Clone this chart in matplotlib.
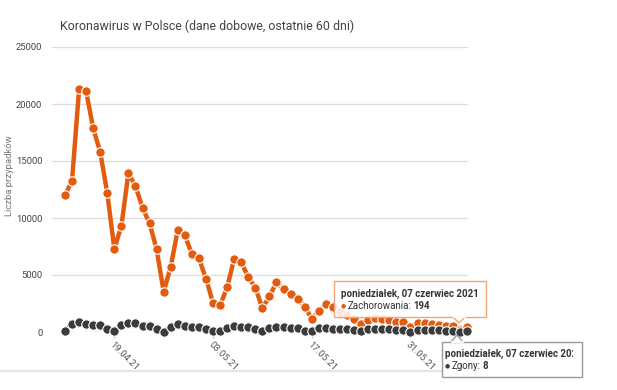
import numpy as np
import pandas as pd
import matplotlib
matplotlib.use("Agg")
from matplotlib import pyplot as plt
from matplotlib.patches import FancyBboxPatch, Polygon
from matplotlib.transforms import Bbox

plt.rcParams['font.family'] = ['Roboto', 'DejaVu Sans']

# daily data (12.04.21 - 08.06.21)
cases = [12000, 13270, 21280, 21130, 17860, 15790, 12160, 7310, 9300, 13950,
         12800, 10900, 9530, 7250, 3540, 5730, 8950, 8480, 6840, 6460,
         4680, 2540, 2340, 3920, 6430, 6110, 4800, 3890, 2080, 3130,
         4360, 3770, 3300, 2930, 2220, 1170, 1810, 2430, 2160, 1750,
         1490, 1110, 670, 1050, 1200, 1110, 1050, 900, 850, 470,
         820, 820, 700, 610, 550, 520, 194, 420]
deaths = [110, 680, 850, 700, 610, 620, 240, 120, 620, 800,
          760, 560, 520, 230, 30, 460, 700, 550, 460, 460,
          240, 90, 90, 380, 550, 460, 460, 240, 90, 380,
          410, 410, 350, 350, 115, 90, 320, 330, 300, 290,
          250, 180, 70, 250, 280, 260, 240, 200, 150, 40,
          160, 200, 170, 150, 120, 90, 8, 120]
dates = pd.date_range("2021-04-12", periods=len(cases), freq="D")
tick_idx = [7, 21, 35, 49]
tick_labels = [dates[i].strftime("%d.%m.%y") for i in tick_idx]
yticks = [0, 5000, 10000, 15000, 20000, 25000]

W, H = 617, 390
fig = plt.figure(figsize=(W / 100, H / 100), dpi=100)
ax = fig.add_axes([52 / W, 1 - 332 / H, (468 - 52) / W, (332 - 47) / H])

x = np.arange(len(cases))
orange = '#e35b0e'
dark = '#3b3b3b'

ax.plot(x, cases, color=orange, lw=3.2, marker='o', ms=6.8,
        mfc=orange, mec='white', mew=0.8, clip_on=False, zorder=3)
ax.plot(x, deaths, color=dark, lw=3.0, marker='o', ms=6.8,
        mfc=dark, mec='white', mew=0.8, clip_on=False, zorder=4)

ax.set_xlim(-1.84, 57.16)
ax.set_ylim(0, 25000)
ax.set_yticks(yticks)
ax.set_yticklabels([str(v) for v in yticks], fontsize=6.8, color='#444444')
ax.tick_params(axis='y', length=0, pad=7)
ax.set_xticks(tick_idx)
ax.set_xticklabels(tick_labels, fontsize=6.8, color='#555555',
                   rotation=-45, ha='left', va='top', rotation_mode='anchor')
ax.tick_params(axis='x', length=4, color='#bbbbbb', pad=2)
ax.grid(axis='y', color='#dddddd', lw=0.9)
ax.set_axisbelow(True)
for s in ax.spines.values():
    s.set_visible(False)

ax.set_ylabel("Liczba przypadków", fontsize=6.8, color='#777777')
ax.yaxis.set_label_coords(-0.091, 0.55)

fig.text(60 / W, 1 - 26 / H, "Koronawirus w Polsce (dane dobowe, ostatnie 60 dni)",
         fontsize=8.9, color='#444444', va='center', ha='left')

# frame line under the chart
fig.add_artist(plt.Line2D([0, 470 / W], [1 - 371 / H, 1 - 371 / H],
                          color='#e4e4e4', lw=1.5))


def fx(px):
    return px / W


def fy(py):
    return 1 - py / H


fs_tip = 7.0

# tooltip: cases
box1 = FancyBboxPatch((fx(334), fy(317)), fx(486) - fx(334), fy(281) - fy(317),
                      boxstyle="square,pad=0", transform=fig.transFigure,
                      fc=(1, 1, 1, 0.85), ec='#eba77a', lw=1.0, zorder=10)
fig.add_artist(box1)
arr1 = Polygon([[fx(453), fy(317)], [fx(459), fy(323)], [fx(465), fy(317)]],
               closed=True, transform=fig.transFigure, fc='white', ec='#eba77a',
               lw=1.0, zorder=11)
fig.add_artist(arr1)
fig.add_artist(plt.Line2D([fx(453.5), fx(464.5)], [fy(317), fy(317)],
                          color='white', lw=1.3, zorder=12))
fig.text(fx(341), fy(294), "poniedziałek, 07 czerwiec 2021", fontsize=fs_tip,
         fontweight='bold', color='#333333', va='center', zorder=13)
fig.text(fx(341), fy(306), "●", fontsize=4.2, color=orange, va='center', zorder=13)
lab1 = fig.text(fx(348), fy(306), "Zachorowania:", fontsize=fs_tip, color='#333333',
                va='center', zorder=13)

# tooltip: deaths (cut by the chart edge)
box2 = FancyBboxPatch((fx(442), fy(377)), fx(582) - fx(442), fy(342) - fy(377),
                      boxstyle="square,pad=0", transform=fig.transFigure,
                      fc='white', ec='#9a9a9a', lw=1.0, zorder=10)
fig.add_artist(box2)
arr2 = Polygon([[fx(451), fy(342)], [fx(457), fy(335)], [fx(463), fy(342)]],
               closed=True, transform=fig.transFigure, fc='white', ec='#9a9a9a',
               lw=1.0, zorder=11)
fig.add_artist(arr2)
fig.add_artist(plt.Line2D([fx(451.5), fx(462.5)], [fy(342), fy(342)],
                          color='white', lw=1.3, zorder=12))
t = fig.text(fx(445), fy(354), "poniedziałek, 07 czerwiec 2021", fontsize=fs_tip,
             fontweight='bold', color='#333333', va='center', zorder=13)
t.set_clip_box(Bbox([[0, 0], [573, H]]))
t.set_clip_on(True)
fig.text(fx(445), fy(366), "●", fontsize=4.2, color=dark, va='center', zorder=13)
lab2 = fig.text(fx(452), fy(366), "Zgony:", fontsize=fs_tip, color='#333333',
                va='center', zorder=13)

# bold values placed right after their labels
fig.canvas.draw()
r = fig.canvas.get_renderer()
for lab, val, py in [(lab1, "194", 306), (lab2, "8", 366)]:
    bb = lab.get_window_extent(r)
    fig.text((bb.x1 + 1.5) / W, fy(py), val, fontsize=fs_tip, fontweight='bold',
             color='#333333', va='center', zorder=13)

fig.savefig("out.png", dpi=100)
